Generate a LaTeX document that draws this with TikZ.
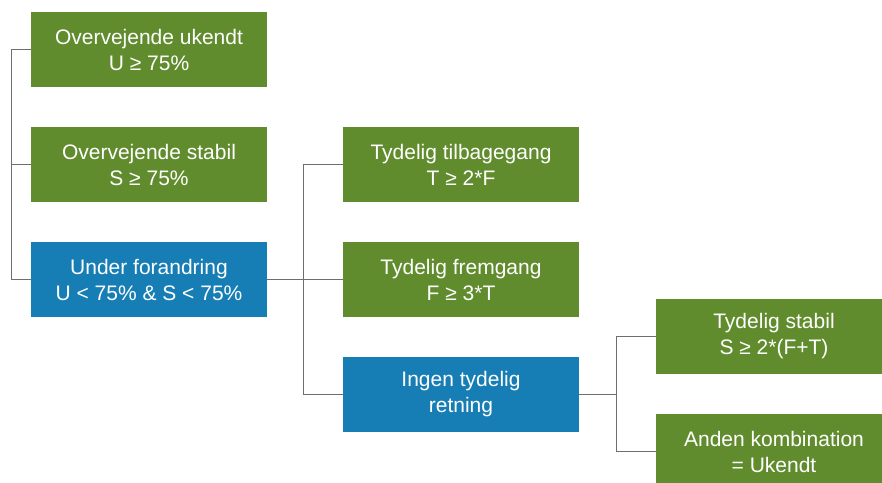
\documentclass[tikz,border=0pt]{standalone}
\usepackage{fontspec}
\setmainfont{Liberation Sans}
\usepackage{tikz}
\usetikzlibrary{positioning}
\definecolor{boxgreen}{RGB}{97,140,46}
\definecolor{boxblue}{RGB}{22,126,180}
\definecolor{linegray}{RGB}{110,110,110}
\tikzset{
	box/.style={fill=boxgreen, text=white, align=center, inner sep=0pt,
		minimum width=236pt, minimum height=75pt,
		font=\fontsize{21}{26}\selectfont},
	bluebox/.style={box, fill=boxblue},
	link/.style={draw=linegray, line width=1.2pt}
}

\begin{document}
\begin{tikzpicture}[x=1pt, y=-1pt]
			\clip (0,0) rectangle (882,482);
			\fill[white] (0,0) rectangle (882,482);
			% first level
			\node[box] (ukendt) at (149,49.5) {Overvejende ukendt\\U ≥ 75\%};
			\node[box] (stabil) at (149,164.5) {Overvejende stabil\\S ≥ 75\%};
			\node[bluebox] (forandring) at (149,279.5) {Under forandring\\U < 75\% \& S < 75\%};
			% second level
			\node[box] (tilbage) at (461,164.5) {Tydelig tilbagegang\\T ≥ 2*F};
			\node[box] (frem) at (461,279.5) {Tydelig fremgang\\F ≥ 3*T};
			\node[bluebox] (retning) at (461,394.5) {Ingen tydelig\\retning};
			% third level
			\node[box] (tstabil) at (774,336.5) {Tydelig stabil\\S ≥ 2*(F+T)};
			\node[box] (anden) at (774,451.5) {Anden kombination\\= Ukendt};
			% connectors
			\draw[link] (forandring.west) -- ++(-19,0) |- (ukendt.west);
			\draw[link] (forandring.west) -- ++(-19,0) |- (stabil.west);
			\draw[link] (forandring.east) -- ++(36,0) |- (tilbage.west);
			\draw[link] (forandring.east) -- (frem.west);
			\draw[link] (forandring.east) -- ++(36,0) |- (retning.west);
			\draw[link] (retning.east) -- ++(37,0) |- (tstabil.west);
			\draw[link] (retning.east) -- ++(37,0) |- (anden.west);
		\end{tikzpicture}
\end{document}
